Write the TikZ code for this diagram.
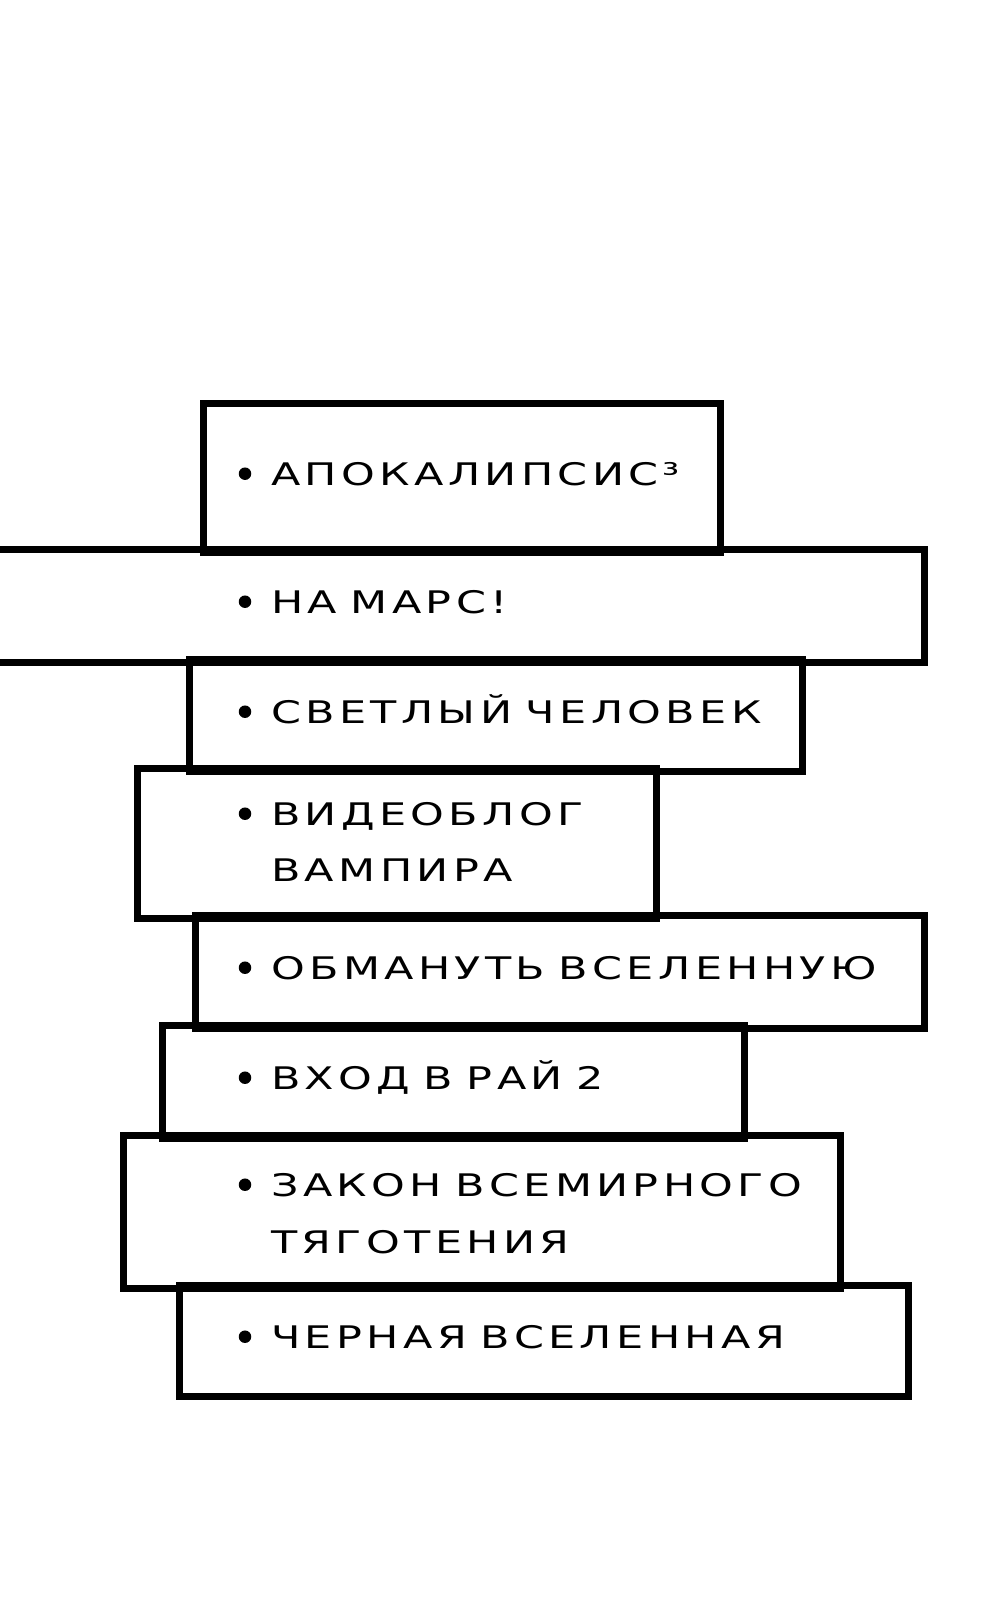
\documentclass[tikz,border=0pt]{standalone}
\usepackage{fontspec}
\newfontfamily\widefont[FakeStretch=1.38,LetterSpace=14,WordSpace=0.75]{DejaVu Sans}
\begin{document}
\begin{tikzpicture}[x=1pt,y=-1pt,
  box/.style={draw=black,line width=4.8pt,fill=white,inner sep=0pt,rectangle},
  lbl/.style={anchor=base west,inner sep=0pt,font=\widefont\fontsize{31.1}{37}\selectfont},
  dot/.style={circle,fill=black,inner sep=0pt,minimum size=12.5pt}]
\clip (0,0) rectangle (1000,1616);
\fill[white] (0,0) rectangle (1000,1616);
\node[box,minimum width=514pt,minimum height=146pt] (b1) at (462,478) {};
\node[box,minimum width=943pt,minimum height=110pt] (b2) at (451.5,606) {};
\node[box,minimum width=610pt,minimum height=109pt] (b3) at (496,715.5) {};
\node[box,minimum width=516pt,minimum height=147pt] (b4) at (397,843.5) {};
\node[box,minimum width=726pt,minimum height=110pt] (b5) at (560,972) {};
\node[box,minimum width=579pt,minimum height=110pt] (b6) at (453.5,1082) {};
\node[box,minimum width=714pt,minimum height=150pt] (b7) at (482,1212) {};
\node[box,minimum width=726pt,minimum height=108pt] (b8) at (544,1341) {};
% redraw outlines so shared edges stay visible
\foreach \n in {b1,b2,b3,b4,b5,b6,b7,b8}{
  \draw[line width=4.8pt] (\n.south west) rectangle (\n.north east);
}
\node[dot] (d1) at (245,473.7) {};
\node[lbl] (t1) at (271,485) {АПОКАЛИПСИС³};
\node[dot] (d2) at (245,601.7) {};
\node[lbl] (t2) at (271,613) {НА МАРС!};
\node[dot] (d3) at (245,711.7) {};
\node[lbl] (t3) at (271,723) {СВЕТЛЫЙ ЧЕЛОВЕК};
\node[dot] (d4) at (245,813.7) {};
\node[lbl] (t4a) at (271,825) {ВИДЕОБЛОГ};
\node[lbl] (t4b) at (271,881) {ВАМПИРА};
\node[dot] (d5) at (245,967.7) {};
\node[lbl] (t5) at (271,979) {ОБМАНУТЬ ВСЕЛЕННУЮ};
\node[dot] (d6) at (245,1077.7) {};
\node[lbl] (t6) at (271,1089) {ВХОД В РАЙ 2};
\node[dot] (d7) at (245,1184.7) {};
\node[lbl] (t7a) at (271,1196) {ЗАКОН ВСЕМИРНОГО};
\node[lbl] (t7b) at (271,1253) {ТЯГОТЕНИЯ};
\node[dot] (d8) at (245,1336.7) {};
\node[lbl] (t8) at (271,1348) {ЧЕРНАЯ ВСЕЛЕННАЯ};
\end{tikzpicture}
\end{document}
